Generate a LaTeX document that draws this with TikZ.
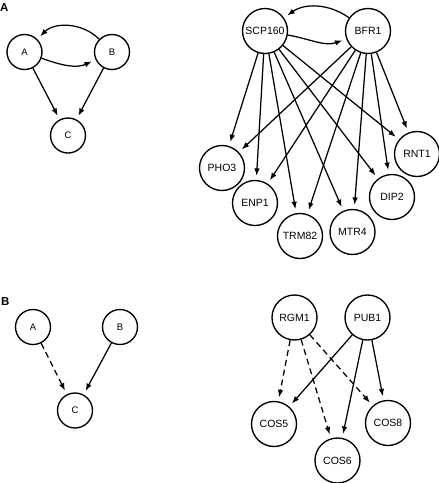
\documentclass[tikz,border=0pt]{standalone}
\usepackage{fontspec}
\setmainfont{Liberation Sans}
\usetikzlibrary{arrows.meta, positioning}

\begin{document}
\begin{tikzpicture}[x=1pt, y=1pt,
        small/.style={circle, draw, line width=1.35pt, minimum size=35pt, inner sep=0pt, font=\fontsize{9.5}{10}\selectfont},
        gene/.style={circle, draw, line width=1.35pt, minimum size=45pt, inner sep=0pt, font=\fontsize{10.5}{11}\selectfont},
        edge/.style={-{Latex[length=7.5pt,width=5.5pt]}, line width=1.25pt, shorten >=4pt},
        weak/.style={edge, dash pattern=on 6pt off 4pt},
        panel/.style={anchor=base west, inner sep=0pt, font=\fontsize{11.5}{12}\selectfont\bfseries}]
            \useasboundingbox (0,0) rectangle (439,-483);

            \node[panel] (pa) at (0,-11) {A};
            \node[panel] (pb) at (1,-305) {B};

            \node[small] (a1) at (24.5,-52) {A};
            \node[small] (b1) at (112,-52) {B};
            \node[small] (c1) at (68,-135.5) {C};

            \draw[edge] (a1) to[out=-20, in=205] (b1);
            \draw[edge] (b1) to[out=135, in=45] (a1);
            \draw[edge] (a1) -- (c1);
            \draw[edge] (b1) -- (c1);

            \node[gene] (scp) at (265,-31) {SCP160};
            \node[gene] (bfr) at (368,-31) {BFR1};
            \node[gene] (pho) at (222,-168) {PHO3};
            \node[gene] (enp) at (255,-203) {ENP1};
            \node[gene] (trm) at (300,-236) {TRM82};
            \node[gene] (mtr) at (352.5,-232) {MTR4};
            \node[gene] (dip) at (392,-197) {DIP2};
            \node[gene] (rnt) at (417,-154) {RNT1};

            \draw[edge] (scp) to[out=-10, in=200] (bfr);
            \draw[edge] (bfr) to[out=145, in=35] (scp);
            \foreach \t in {pho, enp, trm, mtr, dip, rnt} {
                \draw[edge] (scp) -- (\t);
                \draw[edge] (bfr) -- (\t);
            }

            \node[small] (a2) at (33,-327) {A};
            \node[small] (b2) at (120,-327) {B};
            \node[small] (c2) at (75,-410.5) {C};

            \draw[weak] (a2) -- (c2);
            \draw[edge] (b2) -- (c2);

            \node[gene] (rgm) at (294.5,-317.5) {RGM1};
            \node[gene] (pub) at (367.5,-317.5) {PUB1};
            \node[gene] (cos5) at (274,-424) {COS5};
            \node[gene] (cos6) at (337.5,-460.5) {COS6};
            \node[gene] (cos8) at (388,-423) {COS8};

            \foreach \t in {cos5, cos6, cos8} {
                \draw[weak] (rgm) -- (\t);
                \draw[edge] (pub) -- (\t);
            }
        \end{tikzpicture}
\end{document}
